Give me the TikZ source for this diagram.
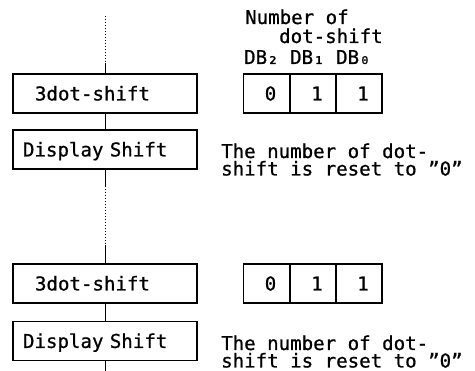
\documentclass[tikz,border=0pt]{standalone}
\usepackage{fontspec}
\newfontfamily\mono{DejaVu Sans Mono}[WordSpace={1,0,0},FakeBold=0.8]
\begin{document}
\begin{tikzpicture}[x=1pt,y=-1pt,
  every node/.style={font=\mono\fontsize{19.1pt}{17.5pt}\selectfont},
  box/.style={draw, line width=1.1pt, minimum height=39pt, text height=13.9pt, text depth=0pt, inner ysep=0pt, align=left},
  boxa/.style={box, inner xsep=22pt, text width=140pt},
  boxb/.style={box, inner xsep=10pt, text width=164pt},
  cell/.style={draw, line width=1.1pt, minimum width=46pt, minimum height=39pt, inner sep=0pt, text height=13.9pt, text depth=0pt},
  link/.style={line width=1pt},
  dotline/.style={line width=0.9pt, dash pattern=on 1.5pt off 1.5pt},
  note/.style={align=left, anchor=base west, inner sep=0pt}]
\useasboundingbox (0,0) rectangle (475,371);
% left column boxes
\node[boxa] (b1) at (105,93.5) {3dot-shift};
\node[boxb] (b2) at (105,149.5) {Display Shift};
\node[boxa] (b3) at (105,283.5) {3dot-shift};
\node[boxb] (b4) at (105,341) {Display Shift};
% connectors
\coordinate (top) at (105,16);
\coordinate (topj) at (105,63);
\coordinate (m1) at (105,186);
\coordinate (m2) at (105,245);
\coordinate (bot) at (105,371);
\draw[dotline] (top) -- (topj);
\draw[link] (topj) -- (b1.north);
\draw[link] (b1) -- (b2);
\draw[link] (b2.south) -- (m1);
\draw[dotline] (m1) -- (m2);
\draw[link] (m2) -- (b3.north);
\draw[link] (b3) -- (b4);
\draw[link] (b4.south) -- (bot);
% header
\node[note] (h1) at (245,24) {Number of};
\node[note] (h2) at (279,43) {dot-shift};
\node[note] (h3) at (244,64) {DB₂ DB₁ DB₀};
% bit cells
\node[cell] (c1) at (266.5,93.5) {\hspace*{8pt}0};
\node[cell] (c2) at (313,93.5) {\hspace*{8pt}1};
\node[cell] (c3) at (359,93.5) {\hspace*{8pt}1};
\node[cell] (d1) at (266.5,283.5) {\hspace*{8pt}0};
\node[cell] (d2) at (313,283.5) {\hspace*{8pt}1};
\node[cell] (d3) at (359,283.5) {\hspace*{8pt}1};
% notes
\node[note] (t1) at (221,175.5) {The number of dot-\\shift is reset to ”0”};
\node[note] (t2) at (221,367.5) {The number of dot-\\shift is reset to ”0”};
\end{tikzpicture}
\end{document}
